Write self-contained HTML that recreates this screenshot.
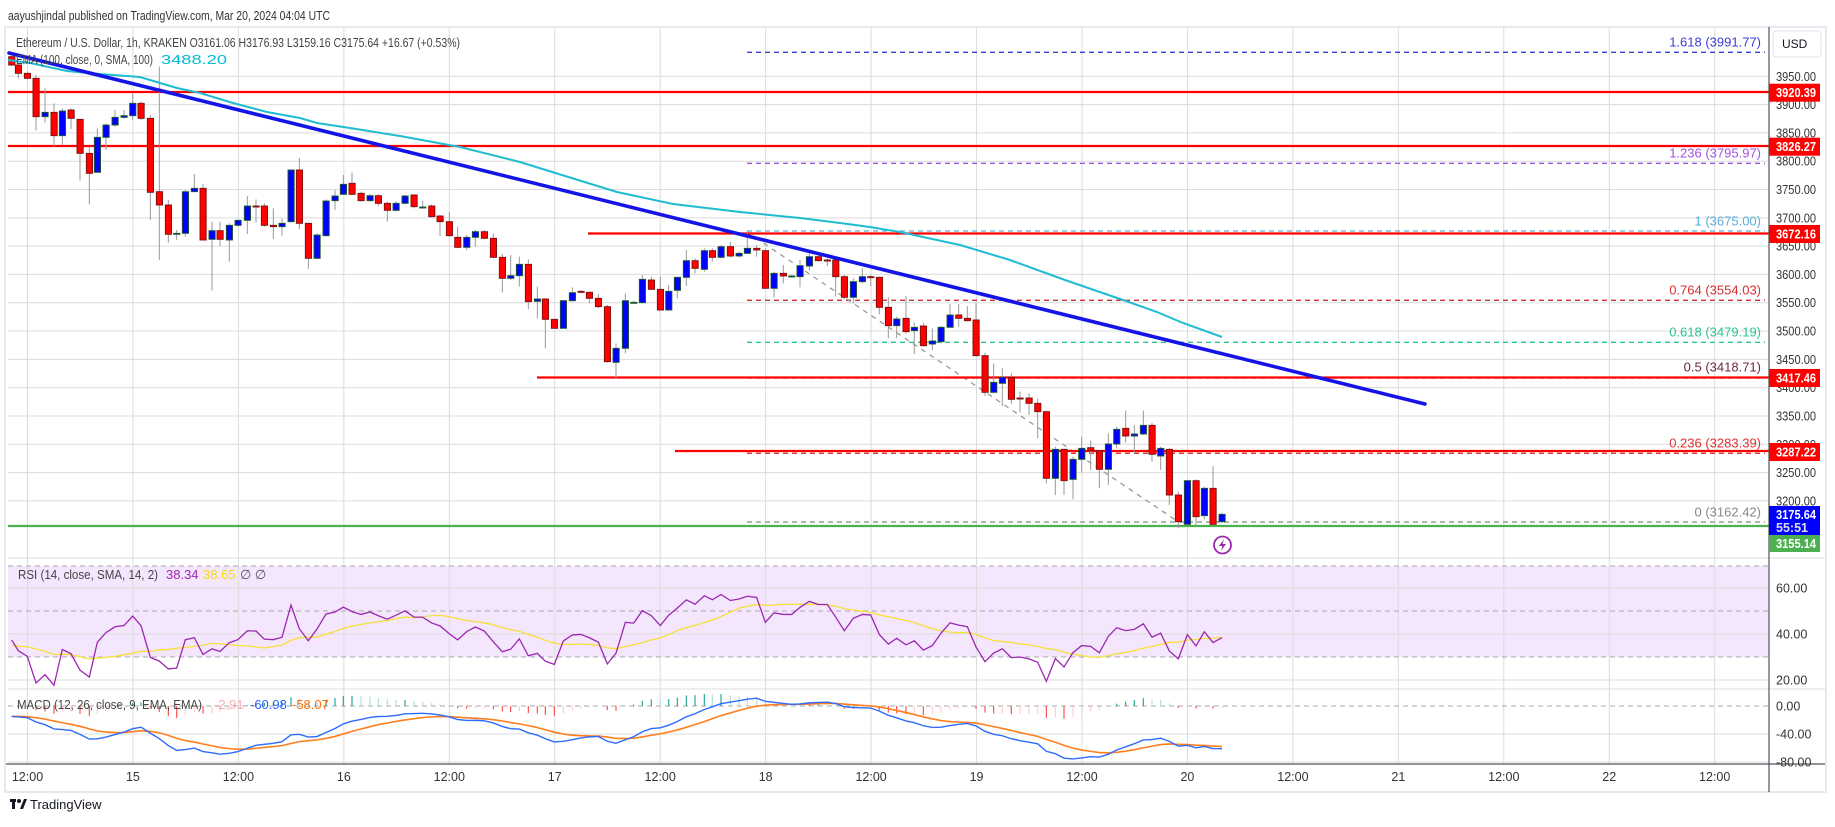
<!DOCTYPE html>
<html><head><meta charset="utf-8">
<style>
html,body{margin:0;padding:0;background:#fff;}
svg{display:block;font-family:"Liberation Sans",sans-serif;}
</style></head>
<body>
<svg id="c" width="1835" height="827" viewBox="0 0 1835 827" xmlns="http://www.w3.org/2000/svg">
<rect width="1835" height="827" fill="#fff"/>
<text x="8" y="20" font-size="13" fill="#333" textLength="322" lengthAdjust="spacingAndGlyphs">aayushjindal published on TradingView.com, Mar 20, 2024 04:04 UTC</text>
<rect x="5" y="27" width="1821" height="765" fill="#fff" stroke="#e6e9f0" stroke-width="2"/>
<rect x="8" y="566" width="1761" height="91" fill="#f3e6fd"/>
<g id="grid" stroke="#dcdcdc" stroke-width="1"></g>
<g id="ann"></g>
<g id="cnd"></g>
<g id="top"></g>
<g id="ind"></g>
<g id="axis"></g>
<g id="leg" font-size="13">
<text x="16" y="47" fill="#444" textLength="444" lengthAdjust="spacingAndGlyphs">Ethereum / U.S. Dollar, 1h, KRAKEN  O3161.06  H3176.93  L3159.16  C3175.64  +16.67 (+0.53%)</text>
<text x="16" y="64" fill="#444" textLength="137" lengthAdjust="spacingAndGlyphs">EMA (100, close, 0, SMA, 100)</text>
<text x="161" y="64" fill="#00bcd4" textLength="66" lengthAdjust="spacingAndGlyphs">3488.20</text>
<text x="18" y="579" fill="#444" textLength="140" lengthAdjust="spacingAndGlyphs">RSI (14, close, SMA, 14, 2)</text>
<text x="166" y="579" fill="#9c27b0">38.34</text>
<text x="203" y="579" fill="#f5d90a">38.65</text>
<text x="240" y="579" fill="#555">∅  ∅</text>
<text x="17" y="709" fill="#444" textLength="185" lengthAdjust="spacingAndGlyphs">MACD (12, 26, close, 9, EMA, EMA)</text>
<text x="214" y="709" fill="#f7a8b0">-2.91</text>
<text x="250" y="709" fill="#2962ff">-60.98</text>
<text x="292" y="709" fill="#ff6d00">-58.07</text>
</g>
<g transform="translate(10,797)">
<rect x="0" y="2" width="6" height="3" fill="#131722"/><rect x="2" y="2" width="3" height="10" fill="#131722"/>
<circle cx="9" cy="4" r="2" fill="#131722"/><path d="M10 12 L14 2 L17 2 L13 12Z" fill="#131722"/>
<text x="20" y="12" font-size="13" fill="#131722">TradingView</text>
</g>
</svg>
<script>
const NS="http://www.w3.org/2000/svg";
function el(p,t,a,txt){const e=document.createElementNS(NS,t);for(const k in a)e.setAttribute(k,a[k]);if(txt!==undefined)e.textContent=txt;document.getElementById(p).appendChild(e);return e;}
const R=1769;
const yp=p=>76.3+(3950-p)*0.5661;
for(let p=3950;p>=3150;p-=50){const y=yp(p);if(y<528)el('grid','line',{x1:8,x2:R,y1:y,y2:y});}
[588,634,680,734,762].forEach(y=>el('grid','line',{x1:8,x2:R,y1:y,y2:y}));
for(let k=0;k<17;k++){const x=27.5+105.45*k;el('grid','line',{x1:x,x2:x,y1:28,y2:764});}
el('grid','line',{x1:8,x2:1825,y1:558,y2:558});
el('grid','line',{x1:8,x2:1825,y1:689,y2:689});
[566,611,657].forEach(y=>el('grid','line',{x1:8,x2:R,y1:y,y2:y,'stroke-dasharray':'5,4',stroke:'#aaa'}));
el('grid','line',{x1:8,x2:R,y1:706,y2:706,'stroke-dasharray':'5,4',stroke:'#aaa'});
const fib=[[52.3,'1.618 (3991.77)','#3d3dd8',41.7],[163.3,'1.236 (3795.97)','#a352e0',152.7],[231,'1 (3675.00)','#5aaed8',220.7],[300.3,'0.764 (3554.03)','#d32f2f',289.3],[342.3,'0.618 (3479.19)','#2bc48a',331.7],[378,'0.5 (3418.71)','#6d2b3d',366.7],[453.3,'0.236 (3283.39)','#e0302f',442.7],[522,'0 (3162.42)','#888',511.7]];
fib.forEach(f=>{el('ann','line',{x1:747,x2:1765,y1:f[0],y2:f[0],stroke:f[2],'stroke-width':1.3,'stroke-dasharray':'5,4'});
el('ann','text',{x:1761,y:f[3]+5,'text-anchor':'end','font-size':13,fill:f[2]},f[1]);});
el('ann','line',{x1:747,y1:232,x2:1177,y2:521,stroke:'#999','stroke-width':1.3,'stroke-dasharray':'5,5'});
[[8,92],[8,146],[588,233.5],[537,377.5],[675,451]].forEach(l=>el('ann','line',{x1:l[0],x2:R,y1:l[1],y2:l[1],stroke:'#ff0000','stroke-width':2.2}));
el('ann','line',{x1:8,x2:R,y1:526,y2:526,stroke:'#4caf50','stroke-width':2.2});
const G=[
{x0:0,y0:40,d:[[35,1,50,75,48,78],[55,1,75,100,70,115],[82,1,100,115,95,118],[108,1,115,230,105,272],[135,0,217,230,145,248],[162,1,217,287,190,322],[187,0,213,287,205,315],[213,1,210,235,205,267],[240,1,238,340,238,422],[268,1,340,400,320,493],[292,0,292,397,265,397],[318,0,255,292,250,330],[345,0,232,255,210,260],[372,0,227,232,210,236],[398,0,190,227,160,240],[423,1,190,235,185,240],[451,1,235,457,225,540],[478,1,455,495,80,660],[505,1,495,583,480,608],[530,0,580,583,570,600],[556,0,455,580,450,590],[583,0,445,455,402,455],[609,1,445,600,432,600],[636,0,572,598,545,752],[660,1,572,598,545,618],[688,0,556,600,550,665],[714,0,541,556,538,560],[742,0,498,541,468,582],[768,1,498,500,478,548],[793,1,498,556,490,560],[820,1,556,560,505,597],[846,0,550,560,535,587],[873,0,390,545,388,547],[898,1,390,550,354,567],[925,1,550,655,548,687],[951,0,585,655,580,657],[978,0,483,587,478,590],[1005,0,468,482,450,510],[1030,0,433,463,405,465],[1056,1,430,463,398,466],[1083,1,460,482,455,485],[1110,0,467,482,462,485],[1135,1,467,490,462,498],[1162,1,490,511,485,545],[1188,0,490,511,483,515],[1215,0,468,490,465,493],[1242,1,465,500,463,505],[1268,0,501,503,483,505],[1295,1,498,530,493,532],[1320,1,528,545,525,588],[1348,1,545,587,515,590],[1373,1,592,622,560,625]]},
{x0:440,y0:180,d:[[80,0,172,202,165,210],[106,0,155,172,150,200],[133,1,155,175,150,178],[160,1,175,232,160,235],[187,1,232,295,222,338],[212,0,287,295,225,300],[238,0,253,287,230,320],[265,1,253,365,238,387],[292,0,357,364,320,415],[316,1,357,418,355,505],[343,1,418,445,418,445],[370,0,362,445,360,445],[397,0,338,362,322,365],[423,1,334,336,330,340],[448,1,337,355,335,370],[475,1,355,380,342,385],[502,1,380,545,375,548],[528,0,505,547,490,595],[556,0,362,505,340,520],[581,0,367,369,362,370],[607,0,298,368,285,370],[634,1,300,328,290,330],[661,1,328,390,290,392],[686,0,334,390,315,392],[712,0,292,331,290,355],[739,0,242,292,210,318],[765,1,242,265,235,280],[793,0,212,268,205,275],[817,1,212,232,205,245],[843,0,200,232,195,235],[871,1,200,228,185,232],[897,0,220,228,215,232],[922,0,205,220,155,222],[950,1,205,210,195,230],[976,1,212,325,205,326],[1002,0,280,325,275,352],[1030,1,280,288,255,310],[1055,0,288,290,285,292],[1080,0,257,290,240,322],[1108,0,230,258,212,272],[1135,1,230,242,225,245],[1162,1,240,242,235,258],[1187,1,240,290,232,350],[1213,1,290,352,285,358],[1240,0,305,352,295,370],[1267,0,290,305,265,310],[1292,1,290,292,285,318],[1318,1,292,382,290,403],[1345,1,382,437,352,475],[1370,0,417,437,410,475]]},
{x0:880,y0:280,d:[[78,1,115,155,48,160],[103,0,142,152,128,222],[130,1,138,197,128,200],[157,0,183,192,145,210],[183,0,142,185,138,190],[210,0,105,142,72,142],[236,1,105,115,72,140],[262,1,115,122,78,125],[288,1,120,227,68,230],[315,1,227,337,218,348],[341,0,307,337,250,340],[367,0,292,310,265,378],[394,1,292,358,280,372],[420,1,354,356,335,398],[447,1,354,370,340,405],[473,1,370,395,355,475],[499,1,395,595,392,610],[526,0,508,595,500,645],[552,1,508,602,505,645],[579,0,538,598,530,658],[605,0,505,538,470,575],[632,1,503,512,482,570],[658,1,512,568,510,625],[685,0,492,568,460,615],[710,0,448,492,440,505],[737,1,445,468,392,488],[763,0,462,468,435,523],[790,0,436,462,392,465],[816,1,436,523,428,545],[842,0,505,528,500,570],[868,1,508,645,505,675],[895,1,645,725,635,745],[922,0,602,733,600,735],[948,1,602,710,598,735],[973,0,625,707,620,718],[999,1,625,733,558,735],[1026,0,703,725,698,730]]}];
const C=[];
G.forEach(g=>g.d.forEach(c=>{const x=g.x0+c[0]/3,t=g.y0+c[2]/3,b=g.y0+c[3]/3,wt=g.y0+c[4]/3,wb=g.y0+c[5]/3;
C.push({x,red:c[1],t,b,wt,wb});}));
C.forEach(c=>{el('cnd','line',{x1:c.x,x2:c.x,y1:c.wt,y2:c.wb,stroke:'#9a9a9a','stroke-width':1});
el('cnd','rect',{x:c.x-3,y:c.t,width:6.2,height:Math.max(1,c.b-c.t),fill:c.red?'#ff0000':'#0000ff',stroke:c.red?'#7a1010':'#1e5a2a','stroke-width':0.9});});
const ema=[[8,60],[30,63],[67,71],[100,74],[140,77],[160,83],[177,88],[200,93],[233,103],[267,112],[300,118],[317,123],[350,128],[400,136],[460,147],[520,162],[578,180],[617,192],[673,204],[740,212],[800,218],[840,223],[870,227],[900,232],[960,245],[1010,260],[1065,280],[1123,300],[1157,312],[1183,323],[1222,337]];
el('top','polyline',{points:ema.map(p=>p.join(',')).join(' '),fill:'none',stroke:'#1fbcd2','stroke-width':2});
el('top','line',{x1:9,y1:53,x2:1425,y2:404,stroke:'#1414e6','stroke-width':3.6,'stroke-linecap':'round'});
el('top','circle',{cx:1222.5,cy:545,r:8.5,fill:'#fff',stroke:'#9c27b0','stroke-width':1.8});
el('top','path',{d:'M1224 539 L1219 546 L1222.5 546 L1221 551 L1226 544 L1222.5 544Z',fill:'#9c27b0'});
const pr=y=>3950-(y-76.3)/0.5661;
let closes=[];for(let i=0;i<40;i++)closes.push(4060-i*2.4+Math.sin(i*1.7)*8);
const off=closes.length;
C.forEach(c=>closes.push(pr(c.red?c.b:c.t)));
function emaA(a,n){const k=2/(n+1);let e=a[0];return a.map(v=>e=v*k+e*(1-k));}
const e12=emaA(closes,12),e26=emaA(closes,26);
const macd=closes.map((v,i)=>e12[i]-e26[i]);const sig=emaA(macd,9);
let ag=0,al=0;const rsi=[50];
for(let i=1;i<closes.length;i++){const d=closes[i]-closes[i-1];const g=Math.max(d,0),l=Math.max(-d,0);
if(i<=14){ag+=g/14;al+=l/14;}else{ag=(ag*13+g)/14;al=(al*13+l)/14;}rsi.push(al==0?100:100-100/(1+ag/al));}
const rs=[],rsm=[],mp=[],sp=[];
C.forEach((c,j)=>{const i=j+off;const r=rsi[i];let s=0;for(let k=0;k<14;k++)s+=rsi[i-k];s/=14;
rs.push(c.x+','+(588+(60-r)*2.3));rsm.push(c.x+','+(588+(60-s)*2.3));
mp.push(c.x+','+(706-macd[i]*0.7));sp.push(c.x+','+(706-sig[i]*0.7));
const h=macd[i]-sig[i],hp=macd[i-1]-sig[i-1];
const col=h>=0?(h>=hp?'#26a69a':'#b2dfdb'):(h<hp?'#ff5252':'#ffcdd2');
el('ind','line',{x1:c.x,x2:c.x,y1:706,y2:706-h*0.7,stroke:col,'stroke-width':1.2});});
el('ind','polyline',{points:rsm.join(' '),fill:'none',stroke:'#f7e03a','stroke-width':1.3});
el('ind','polyline',{points:rs.join(' '),fill:'none',stroke:'#9c27b0','stroke-width':1.3});
el('ind','polyline',{points:sp.join(' '),fill:'none',stroke:'#ff7f1e','stroke-width':1.6});
el('ind','polyline',{points:mp.join(' '),fill:'none',stroke:'#2f6bff','stroke-width':1.4});
el('axis','line',{x1:R,x2:R,y1:27,y2:792,stroke:'#50535e','stroke-width':1.2});
el('axis','line',{x1:6,x2:1825,y1:764,y2:764,stroke:'#50535e','stroke-width':1.2});
el('axis','rect',{x:1773,y:31,width:48,height:26,rx:3,fill:'#fff',stroke:'#e0e3eb'});
el('axis','text',{x:1782,y:48,'font-size':12,fill:'#131722'},'USD');
const AT=(y,t,fill,bold)=>el('axis','text',{x:1776,y:y,'font-size':12.5,fill:fill,'font-weight':bold?'bold':'normal',textLength:40,lengthAdjust:'spacingAndGlyphs'},t);
for(let p=3950;p>=3200;p-=50)AT(yp(p)+4.5,p.toFixed(2),'#333');
[[588,'60.00'],[634,'40.00'],[680,'20.00'],[706,'0.00'],[734,'-40.00'],[762,'-80.00']].forEach(a=>el('axis','text',{x:1776,y:a[0]+4.5,'font-size':12.5,fill:'#333'},a[1]));
const tl=["12:00","15","12:00","16","12:00","17","12:00","18","12:00","19","12:00","20","12:00","21","12:00","22","12:00"];
tl.forEach((t,k)=>el('axis','text',{x:27.5+105.45*k,y:781,'text-anchor':'middle','font-size':12.5,fill:'#333'},t));
[[92.7,'3920.39'],[146.7,'3826.27'],[234,'3672.16'],[378,'3417.46'],[452,'3287.22']].forEach(a=>{el('axis','rect',{x:1769,y:a[0]-9,width:51,height:18,fill:'#ff0000'});AT(a[0]+4.5,a[1],'#fff',1);});
el('axis','rect',{x:1769,y:506,width:51,height:29,fill:'#0000ff'});
AT(519,'3175.64','#fff',1);
el('axis','text',{x:1776,y:532,'font-size':12.5,'font-weight':'bold',fill:'#dde'},'55:51');
el('axis','rect',{x:1769,y:535,width:51,height:17,fill:'#4caf50'});
AT(548,'3155.14','#fff',1);
</script>
</body></html>
